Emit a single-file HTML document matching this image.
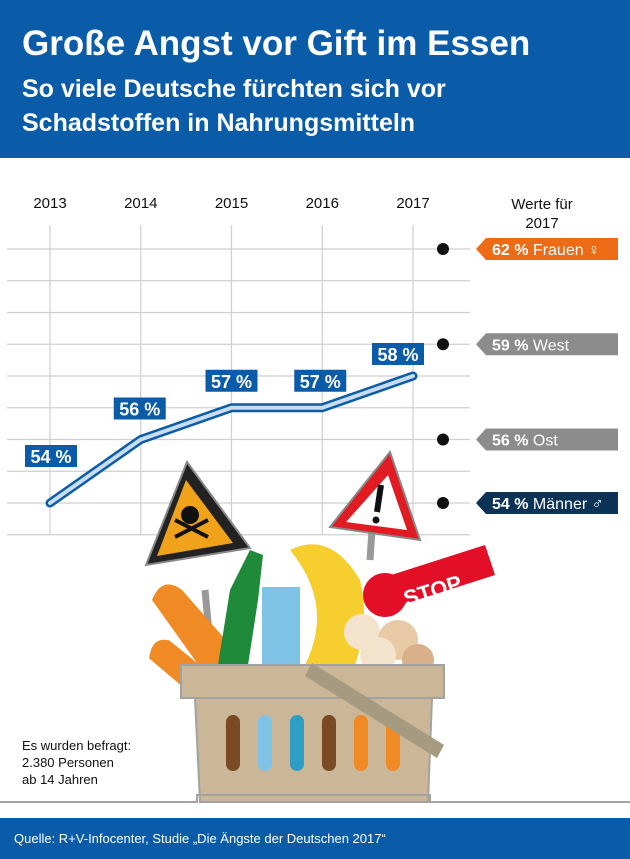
<!DOCTYPE html>
<html><head><meta charset="utf-8"><style>
html,body{margin:0;padding:0;width:630px;height:859px;overflow:hidden;background:#fff;font-family:"Liberation Sans",sans-serif}
</style></head><body>
<svg width="630" height="859" viewBox="0 0 630 859" xmlns="http://www.w3.org/2000/svg">
<rect x="0" y="0" width="630" height="158" fill="#0b5ca8"/>
<text x="22" y="55" fill="#fff" font-size="35" font-weight="bold">Große Angst vor Gift im Essen</text>
<text x="22" y="97" fill="#fff" font-size="25" font-weight="bold">So viele Deutsche fürchten sich vor</text>
<text x="22" y="131" fill="#fff" font-size="25" font-weight="bold">Schadstoffen in Nahrungsmitteln</text>
<g id="grid"></g>
<g id="chart"></g>
<text x="542" y="209" text-anchor="middle" font-size="15" fill="#111">Werte für</text>
<text x="542" y="228" text-anchor="middle" font-size="15" fill="#111">2017</text>
<g id="side"></g>
<g>
 <line x1="205" y1="590" x2="212" y2="665" stroke="#999" stroke-width="7"/>
 <polygon points="187,462 146,565 250,548" fill="#222" stroke="#888" stroke-width="2"/>
 <polygon points="186,480 157,556 233,543" fill="#f0a21a"/>
 <circle cx="190" cy="515" r="9" fill="#111"/>
 <line x1="175" y1="520" x2="208" y2="537" stroke="#111" stroke-width="4"/>
 <line x1="208" y1="520" x2="175" y2="537" stroke="#111" stroke-width="4"/>
 <line x1="372" y1="530" x2="370" y2="560" stroke="#999" stroke-width="7"/>
 <polygon points="390,452 330,527 420,540" fill="#e11b22" stroke="#888" stroke-width="2"/>
 <polygon points="388,475 346,522 407,530" fill="#fff"/>
 <line x1="381" y1="485" x2="377" y2="512" stroke="#111" stroke-width="6"/>
 <circle cx="376" cy="520" r="3.5" fill="#111"/>
 <g transform="rotate(-20 320 660)">
  <path d="M160,600 q10,-20 25,-10 l45,75 q-15,15 -30,5 z" fill="#f08a24"/>
 </g>
 <path d="M152,600 q10,-25 30,-10 l70,80 l-50,0 z" fill="#f08a24"/>
 <path d="M230,590 l20,-40 l13,5 l-5,45 l-10,65 l-30,0 z" fill="#1f8a3a"/>
 <rect x="262" y="587" width="38" height="80" fill="#7ec3e6"/>
 <path d="M290,550 q40,-20 70,30 q10,40 -5,85 l-50,0 q30,-60 -15,-115 z" fill="#f6cf2e"/>
 <circle cx="362" cy="632" r="18" fill="#f4e3cc"/>
 <circle cx="398" cy="640" r="20" fill="#e8c9a5"/>
 <circle cx="378" cy="655" r="18" fill="#f4e3cc"/>
 <circle cx="418" cy="660" r="16" fill="#d8b08a"/>
 <polygon points="385,577 485,545 495,575 395,607" fill="#e30f26"/>
 <circle cx="385" cy="595" r="22" fill="#e30f26"/>
 <text x="403" y="596" fill="#fff" font-size="22" font-weight="bold" transform="rotate(-17 440 590)">STOP</text>
 <rect x="181" y="665" width="263" height="33" fill="#cbb797" stroke="#a2a2a2" stroke-width="2"/>
 <polygon points="195,698 432,698 428,802 200,802" fill="#cbb797" stroke="#a2a2a2" stroke-width="2"/>
 <rect x="226" y="715" width="14" height="56" rx="7" fill="#7a4a25"/>
 <rect x="258" y="715" width="14" height="56" rx="7" fill="#7ec3e6"/>
 <rect x="290" y="715" width="14" height="56" rx="7" fill="#2f9ec4"/>
 <rect x="322" y="715" width="14" height="56" rx="7" fill="#7a4a25"/>
 <rect x="354" y="715" width="14" height="56" rx="7" fill="#f08a24"/>
 <rect x="386" y="715" width="14" height="56" rx="7" fill="#f08a24"/>
 <polygon points="305,676 312,663 444,745 437,758" fill="#a69a80"/>
 <polyline points="0,802 197,802 197,795 430,795 430,802 630,802" fill="none" stroke="#a2a2a2" stroke-width="2"/>
</g>
<text x="22" y="750" font-size="13" fill="#111">Es wurden befragt:</text>
<text x="22" y="767" font-size="13" fill="#111">2.380 Personen</text>
<text x="22" y="784" font-size="13" fill="#111">ab 14 Jahren</text>
<rect x="0" y="818" width="630" height="41" fill="#0b5ca8"/>
<text x="14" y="843" fill="#fff" font-size="13">Quelle: R+V-Infocenter,  Studie „Die Ängste der Deutschen 2017“</text>
</svg>
<script>
const years = ["2013","2014","2015","2016","2017"];
const values = [54,56,57,57,58];
const sideLabels = ["Frauen ♀","West","Ost","Männer ♂"];
const sideValues = [62,59,56,54];
const sideColors = ["#ec6b14","#8c8c8c","#8c8c8c","#0c3355"];
const gridLevels = [62,61,60,59,58,57,56,55,54,53];
const NS="http://www.w3.org/2000/svg";
const xPos = i => 50 + i*90.75;
const yPos = v => 376 - (v-58)*31.75;
function mk(tag, attrs, parent){const e=document.createElementNS(NS,tag);for(const k in attrs)e.setAttribute(k,attrs[k]);parent.appendChild(e);return e;}
const grid=document.getElementById('grid'), chart=document.getElementById('chart'), side=document.getElementById('side');
gridLevels.forEach(v=>{
  const l=mk('line',{x1:7,x2:470,y1:yPos(v),y2:yPos(v),stroke:'#cfcfcf','stroke-width':1.2},grid);
  
  
});
years.forEach((y,i)=>{
  const l=mk('line',{x1:xPos(i),x2:xPos(i),y1:225,y2:yPos(53),stroke:'#cfcfcf','stroke-width':1.2},grid);
  
  
  const t=mk('text',{x:xPos(i),y:208,'text-anchor':'middle','font-size':15,fill:'#111'},grid);
  t.textContent=y;
  
  
});
const pts=values.map((v,i)=>xPos(i)+','+yPos(v)).join(' ');
const l1=mk('polyline',{points:pts,fill:'none',stroke:'#0b5ca8','stroke-width':9,'stroke-linejoin':'round','stroke-linecap':'round'},chart);


const l2=mk('polyline',{points:pts,fill:'none',stroke:'#c9dcf2','stroke-width':4,'stroke-linejoin':'round','stroke-linecap':'round'},chart);


values.forEach((v,i)=>{
  const offs=[-47,-31,-27,-27,-22];
  const cx=xPos(i)+[1,-1,0,-2,-15][i], cy=yPos(v)+offs[i];
  const r=mk('rect',{x:cx-26,y:cy-11,width:52,height:22,fill:'#0b5ca8'},chart);
  
  
  const t=mk('text',{x:cx,y:cy+7,'text-anchor':'middle','font-size':18,'font-weight':'bold',fill:'#fff'},chart);
  t.textContent=v+' %';
  
  
});
sideValues.forEach((v,i)=>{
  const y=yPos(v);
  const d=mk('circle',{cx:443,cy:y,r:6,fill:'#111'},side);
  
  
  const p=mk('polygon',{points:`476,${y} 486,${y-11} 618,${y-11} 618,${y+11} 486,${y+11}`,fill:sideColors[i]},side);
  
  
  const t=mk('text',{x:492,y:y+6,'font-size':16,fill:'#fff'},side);
  const b=mk('tspan',{'font-weight':'bold'},t); b.textContent=v+' % ';
  const s=mk('tspan',{},t); s.textContent=sideLabels[i];
  
  
});
</script>
</body></html>
